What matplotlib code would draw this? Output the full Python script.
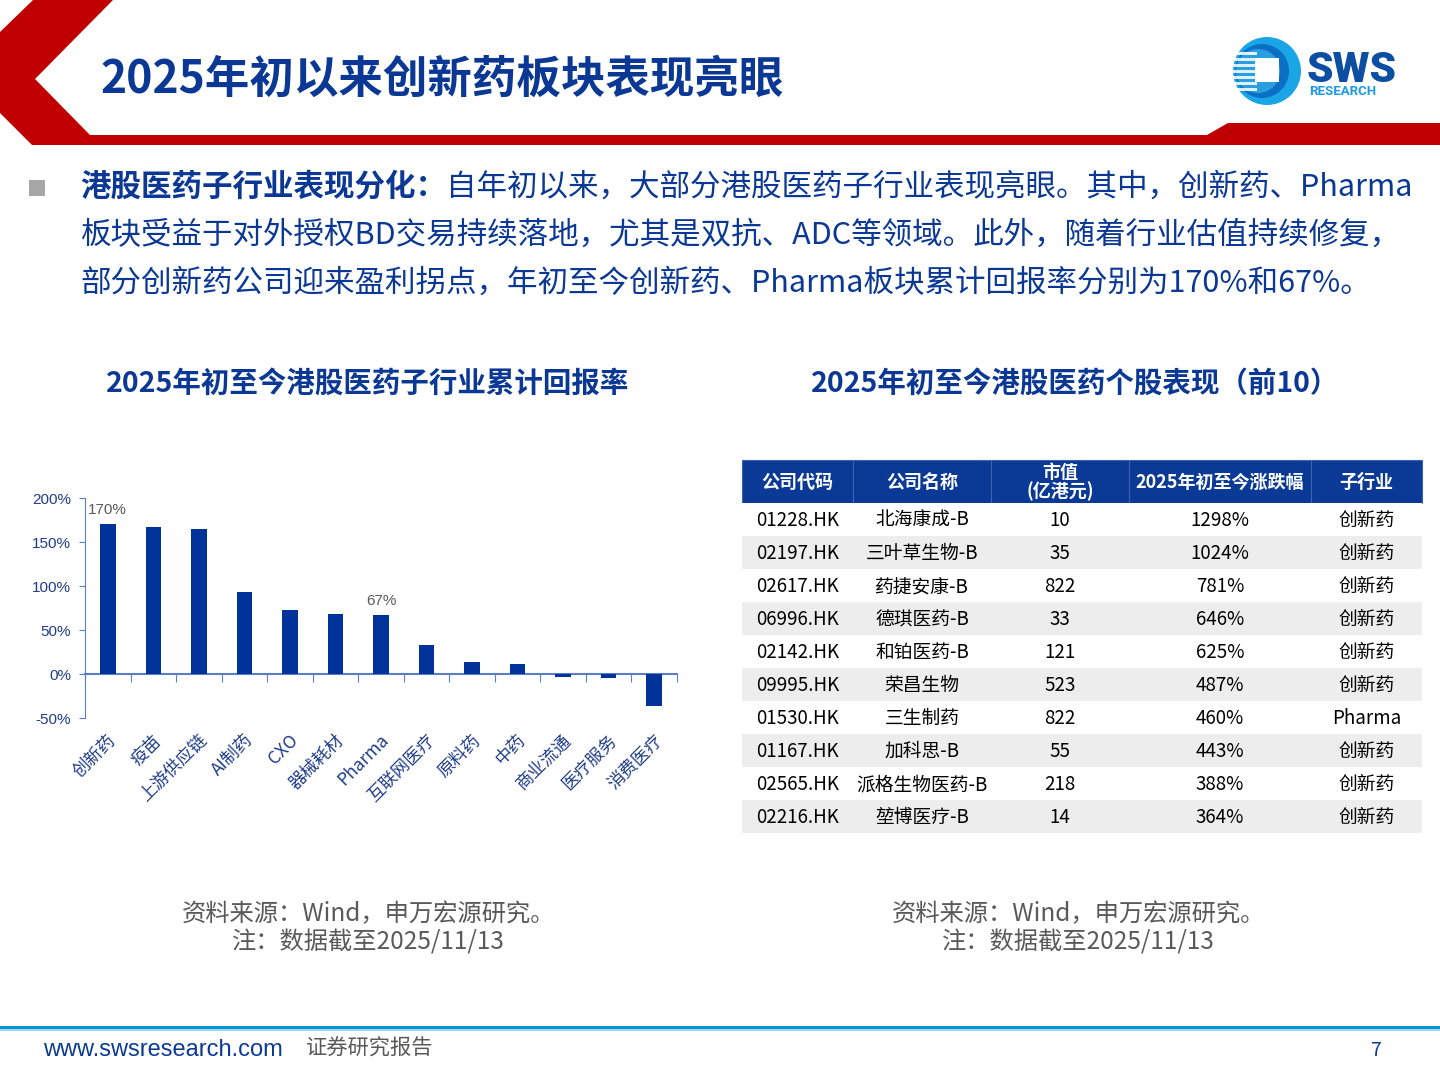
import matplotlib
matplotlib.use("Agg")
import matplotlib.pyplot as plt
from matplotlib.patches import Polygon, Rectangle, Circle
import matplotlib.transforms as mtransforms

plt.rcParams['font.family'] = ['Noto Sans CJK SC', 'DejaVu Sans']

# ---- data ----
hangye = ["创新药", "疫苗", "上游供应链", "AI制药", "CXO", "器械耗材", "Pharma",
          "互联网医疗", "原料药", "中药", "商业流通", "医疗服务", "消费医疗"]
huibao = [170, 167, 165, 93, 73, 68, 67, 33, 13.5, 11, -3, -4, -36]
popisky = {0: "170%", 6: "67%"}
y_ticks = [-50, 0, 50, 100, 150, 200]

hlavicka = ["公司代码", "公司名称", "市值\n(亿港元)", "2025年初至今涨跌幅", "子行业"]
kody = ["01228.HK", "02197.HK", "02617.HK", "06996.HK", "02142.HK",
        "09995.HK", "01530.HK", "01167.HK", "02565.HK", "02216.HK"]
nazvy = ["北海康成-B", "三叶草生物-B", "药捷安康-B", "德琪医药-B", "和铂医药-B",
         "荣昌生物", "三生制药", "加科思-B", "派格生物医药-B", "堃博医疗-B"]
trzni_hodnota = [10, 35, 822, 33, 121, 523, 822, 55, 218, 14]
zmena = [1298, 1024, 781, 646, 625, 487, 460, 443, 388, 364]
podobor = ["创新药"] * 6 + ["Pharma"] + ["创新药"] * 3

W, H = 1440, 1080
MODRA = "#0A3894"
CERVENA = "#C00000"
SEDA = "#595959"

fig = plt.figure(figsize=(W / 100, H / 100), dpi=100)
fig.patch.set_facecolor("white")

# overlay v pixelech
bg = fig.add_axes([0, 0, 1, 1])
bg.set_xlim(0, W)
bg.set_ylim(H, 0)
bg.axis("off")


def px_axes(x0, y0, x1, y1):
    return fig.add_axes([x0 / W, 1 - y1 / H, (x1 - x0) / W, (y1 - y0) / H])


# hlavicka - cervena sipka a pruh
bg.add_patch(Polygon([(0, 32), (33, 0), (113, 0), (35, 79), (90, 135), (1207, 135),
                      (1228, 123), (W, 123), (W, 145), (32, 145), (0, 113)],
                     closed=True, facecolor=CERVENA, edgecolor="none"))
bg.text(100, 80, "2025年初以来创新药板块表现亮眼", fontsize=32, fontweight="bold",
        color=MODRA, ha="left", va="center")

# logo
bg.add_patch(Circle((1267, 71), 34, facecolor="#1AA6E6", edgecolor="none"))
bg.add_patch(Circle((1262, 71), 27, facecolor="#0B6FC4", edgecolor="none"))
bg.add_patch(Circle((1258, 71), 22, facecolor="#2A9FE0", edgecolor="none"))
for yy in range(52, 92, 6):
    bg.add_patch(Rectangle((1233, yy), 24, 3, facecolor="white", edgecolor="none", alpha=0.85))
bg.add_patch(Rectangle((1255, 58), 24, 24, facecolor="white", edgecolor="none"))
bg.text(1307, 82, "SWS", fontsize=30.5, fontweight="heavy", color="#0B4EA2",
        family=["Roboto", "DejaVu Sans"], ha="left", va="baseline")
bg.text(1309, 95, "RESEARCH", fontsize=9.5, fontweight="bold", color="#1E9BE0",
        family=["Roboto", "DejaVu Sans"], ha="left", va="baseline")

# odrazka s textem
bg.add_patch(Rectangle((29, 180), 16, 16, facecolor="#A6A6A6", edgecolor="none"))
fs = 22
t1 = bg.text(80, 187, "港股医药子行业表现分化：", fontsize=fs, fontweight="bold",
             color=MODRA, ha="left", va="center")
fig.canvas.draw()
r = fig.canvas.get_renderer()
x_end = t1.get_window_extent(r).x1
bg.text(x_end, 187, "自年初以来，大部分港股医药子行业表现亮眼。其中，创新药、Pharma",
        fontsize=fs, color=MODRA, ha="left", va="center")
bg.text(80, 235, "板块受益于对外授权BD交易持续落地，尤其是双抗、ADC等领域。此外，随着行业估值持续修复，",
        fontsize=fs, color=MODRA, ha="left", va="center")
bg.text(80, 283, "部分创新药公司迎来盈利拐点，年初至今创新药、Pharma板块累计回报率分别为170%和67%。",
        fontsize=fs, color=MODRA, ha="left", va="center")

# podnadpisy
bg.text(368, 384, "2025年初至今港股医药子行业累计回报率", fontsize=20.5, fontweight="bold",
        color=MODRA, ha="center", va="center")
bg.text(1075, 384, "2025年初至今港股医药个股表现（前10）", fontsize=20.5, fontweight="bold",
        color=MODRA, ha="center", va="center")

# ---- graf ----
ax = px_axes(85, 498, 677, 718)
x = list(range(len(hangye)))
ax.bar(x, huibao, width=0.34, color="#003399", zorder=3)
ax.set_xlim(-0.5, len(hangye) - 0.5)
ax.set_ylim(-50, 200)
ax.set_yticks(y_ticks)
ax.set_yticklabels([f"{v}%" for v in y_ticks], family=["Liberation Sans", "DejaVu Sans"],
                   fontsize=11, color="#1F3C88")
osa = "#5B7FC7"
for s in ["top", "right"]:
    ax.spines[s].set_visible(False)
ax.spines["left"].set_color(osa)
ax.spines["bottom"].set_position(("data", 0))
ax.spines["bottom"].set_color(osa)
ax.spines["bottom"].set_linewidth(1.5)
ax.tick_params(axis="y", colors=osa, labelcolor="#1F3C88", length=4, pad=6)
ax.set_xticks([i + 0.5 for i in x[:-1]] + [-0.5, len(hangye) - 0.5])
ax.set_xticklabels([])
ax.tick_params(axis="x", colors=osa, length=6, direction="out")
trans = mtransforms.blended_transform_factory(ax.transData, ax.transAxes)
for i, nm in enumerate(hangye):
    ax.text(i - 0.02, -0.06, nm, transform=trans, rotation=45, rotation_mode="anchor",
            ha="right", va="top", fontsize=12.5, color="#1F3C88")
for i, lab in popisky.items():
    ax.annotate(lab, (i, huibao[i]), xytext=(0, 5), textcoords="offset points",
                ha="center", va="bottom", fontsize=11, color=SEDA,
                family=["Liberation Sans", "DejaVu Sans"])

# ---- tabulka ----
hrany = [742, 853, 991, 1129, 1311, 1422]
y_head = (460, 503)
row_h = 33
for c in range(5):
    bg.add_patch(Rectangle((hrany[c], y_head[0]), hrany[c + 1] - hrany[c], y_head[1] - y_head[0],
                           facecolor="#0B3A96", edgecolor="#3D63B0", linewidth=0.8))
    bg.text((hrany[c] + hrany[c + 1]) / 2, (y_head[0] + y_head[1]) / 2 + 1, hlavicka[c],
            fontsize=13, fontweight="bold", color="white", ha="center", va="center",
            linespacing=0.95)
radky = list(zip(kody, nazvy, trzni_hodnota, zmena, podobor))
for i, radek in enumerate(radky):
    y0 = y_head[1] + i * row_h
    barva = "#EDEDED" if i % 2 == 1 else "white"
    bg.add_patch(Rectangle((hrany[0], y0), hrany[-1] - hrany[0], row_h,
                           facecolor=barva, edgecolor="none"))
    hodnoty = [radek[0], radek[1], str(radek[2]), f"{radek[3]}%", radek[4]]
    for c, v in enumerate(hodnoty):
        bg.text((hrany[c] + hrany[c + 1]) / 2, y0 + row_h / 2 + 1, v, fontsize=13.5,
                color="black", ha="center", va="center")

# zdroje
for cx in (368, 1078):
    bg.text(cx, 914, "资料来源：Wind，申万宏源研究。", fontsize=17.5, color=SEDA,
            ha="center", va="center")
    bg.text(cx, 942, "注：数据截至2025/11/13", fontsize=17.5, color=SEDA,
            ha="center", va="center")

# paticka
bg.add_patch(Rectangle((0, 1026), W, 3, facecolor="#0096D6", edgecolor="none"))
bg.add_patch(Rectangle((0, 1029), W, 2, facecolor="#9ED8F2", edgecolor="none"))
bg.text(43, 1050, "www.swsresearch.com", fontsize=17, color="#0B3A96",
        family=["Liberation Sans Narrow", "Liberation Sans", "DejaVu Sans"],
        ha="left", va="center")
bg.text(306, 1049, "证券研究报告", fontsize=15.3, color=SEDA, ha="left", va="center")
bg.text(1376, 1050, "7", fontsize=14, color="#0B3A96", ha="center", va="center")

fig.savefig("out.png", dpi=100, facecolor="white")
